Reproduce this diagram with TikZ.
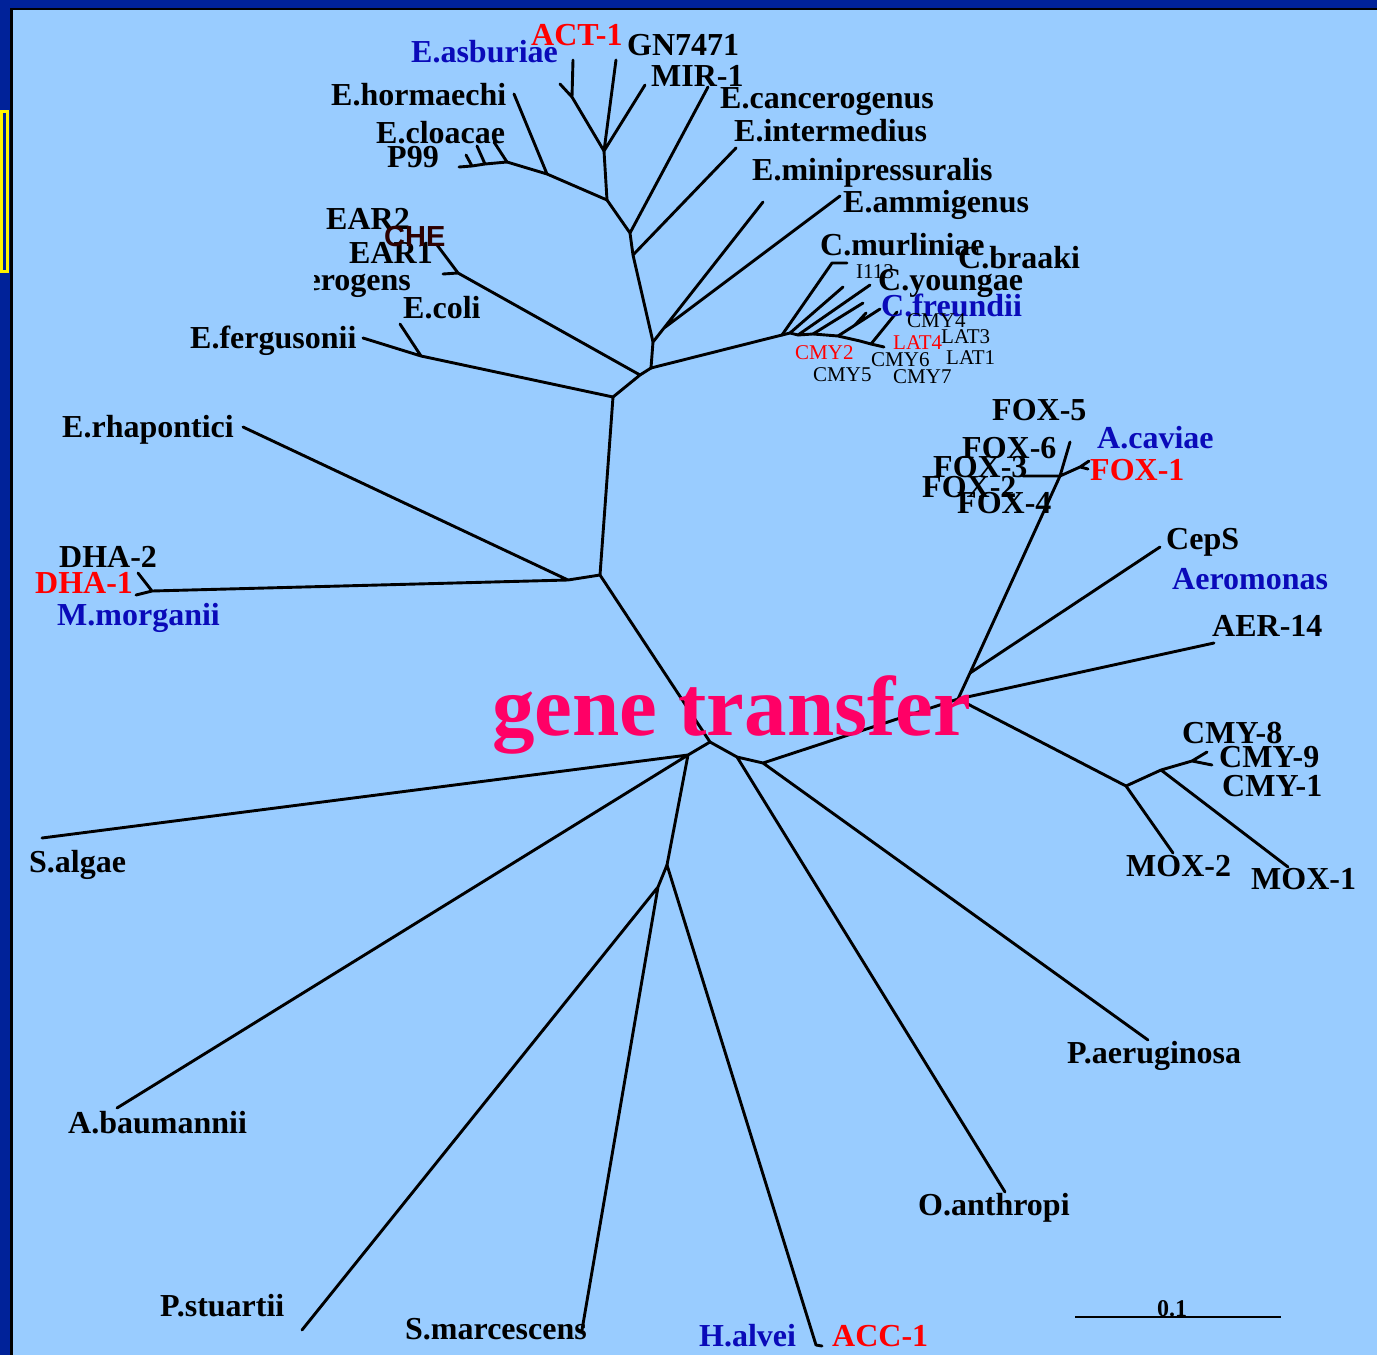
\documentclass[tikz,border=0pt]{standalone}
\usepackage{fontspec}
\setmainfont{Liberation Serif}
\newfontfamily\chefont{Liberation Sans}
\definecolor{frameblue}{RGB}{0,34,153}
\definecolor{paneblue}{RGB}{153,204,255}
\definecolor{taxblue}{RGB}{10,10,185}
\definecolor{taxred}{RGB}{255,0,0}
\definecolor{genepink}{RGB}{255,0,102}
\definecolor{chebrown}{RGB}{45,0,0}
\begin{document}
\begin{tikzpicture}[x=1pt,y=-1pt,
  branch/.style={line width=2.9pt,line cap=round,line join=round},
  lab/.style={anchor=base west,inner sep=0pt,font=\bfseries\fontsize{32}{36}\selectfont},
  sml/.style={anchor=base west,inner sep=0pt,font=\fontsize{21}{24}\selectfont},
  bluelab/.style={lab,text=taxblue},
  redlab/.style={lab,text=taxred}]
\useasboundingbox (0,0) rectangle (1377,1355);
% frame and panel
\fill[frameblue] (0,0) rectangle (1377,1355);
\fill[black] (10,7.5) rectangle (1377,1355);
\fill[paneblue] (13,10) rectangle (1377,1355);
\draw[yellow,line width=3pt] (1,111) rectangle (7.5,271);

% ---------- tree vertices ----------
% Enterobacter group
\coordinate (a1) at (572,97);   \coordinate (tACT) at (573,60);  \coordinate (tASB) at (560,84);
\coordinate (b1) at (604,151);  \coordinate (tGN) at (616,60);   \coordinate (tMIR) at (645,85);
\coordinate (c1) at (607,200);
\coordinate (d1) at (547,174);  \coordinate (tHOR) at (514,94);
\coordinate (e1) at (507,162);  \coordinate (e2) at (485,164);   \coordinate (e3) at (472,166);
\coordinate (tCL1) at (494,142); \coordinate (tCL2) at (477,146); \coordinate (tCL3) at (466,155);
\coordinate (tP99) at (459,167);
\coordinate (f1) at (630,233);  \coordinate (tCAN) at (708,87);
\coordinate (g1) at (633,255);  \coordinate (tINT) at (736,148);
\coordinate (h1) at (653,342);  \coordinate (h2) at (664,328);
\coordinate (tMINI) at (763,202); \coordinate (tAMM) at (840,196);
\coordinate (i1) at (651,368);
\coordinate (k1) at (640,375);  \coordinate (k2) at (458,273);
\coordinate (tEAR) at (437,245); \coordinate (tAERO) at (443,274);
\coordinate (j1) at (613,397);
\coordinate (l1) at (421,356);  \coordinate (tFER) at (363,338); \coordinate (tCOLI) at (400,324);
% Citrobacter group
\coordinate (cf0) at (782,335); \coordinate (cf1) at (790,333); \coordinate (cf2) at (798,335);
\coordinate (cf3) at (813,334); \coordinate (cf4) at (838,336); \coordinate (cf5) at (860,341);
\coordinate (cf6) at (871,344); \coordinate (cfE) at (884,347);
\coordinate (tMUR) at (832,263); \coordinate (tMURb) at (847,263);
\coordinate (tCF1) at (843,287); \coordinate (tCF2) at (870,285); \coordinate (tCF3) at (863,303);
\coordinate (tCF4) at (880,309); \coordinate (cf4b) at (855,325); \coordinate (tCF4b) at (866,313);
\coordinate (tCF6) at (897,312);
% base of the tree
\coordinate (m1) at (600,575);  \coordinate (n1) at (568,580);  \coordinate (tRHA) at (243,427);
\coordinate (dh) at (152,591);  \coordinate (tDHA2) at (138,573); \coordinate (tDHA1) at (136,595);
\coordinate (o1) at (710,742);  \coordinate (p1) at (688,755);
\coordinate (tALG) at (42,838); \coordinate (tBAU) at (117,1108);
\coordinate (r1) at (667,865);  \coordinate (s1) at (658,887);
\coordinate (tSTU) at (302,1330); \coordinate (tMAR) at (582,1330);
\coordinate (tALV) at (816,1345); \coordinate (tACC) at (822,1346);
\coordinate (t1) at (737,757);  \coordinate (tANT) at (1005,1192);
\coordinate (u1) at (763,763);  \coordinate (tAERU) at (1148,1040);
% Aeromonas / FOX group
\coordinate (w1) at (958,699);  \coordinate (y1) at (970,673);
\coordinate (tCEPS) at (1160,547); \coordinate (tAER14) at (1214,643);
\coordinate (fx) at (1060,476); \coordinate (tFOX5) at (1070,442); \coordinate (tFOX32) at (1023,476);
\coordinate (fx1) at (1080,467); \coordinate (tFOX1a) at (1089,461); \coordinate (tFOX1b) at (1088,469);
% MOX / CMY group
\coordinate (x1) at (1126,786); \coordinate (tMOX2) at (1173,853);
\coordinate (x2) at (1161,770); \coordinate (tMOX1) at (1288,867);
\coordinate (x3) at (1192,761); \coordinate (tCMY8) at (1207,752); \coordinate (tCMY9) at (1212,765);

% ---------- branches ----------
\begin{scope}[branch]
\draw (a1)--(tACT) (a1)--(tASB) (a1)--(b1);
\draw (b1)--(tGN) (b1)--(tMIR) (b1)--(c1);
\draw (c1)--(d1) (d1)--(tHOR) (d1)--(e1);
\draw (e1)--(tCL1) (e1)--(e2)--(e3)--(tP99) (e2)--(tCL2) (e3)--(tCL3);
\draw (c1)--(f1) (f1)--(tCAN) (f1)--(g1) (g1)--(tINT) (g1)--(h1);
\draw (h1)--(h2) (h2)--(tMINI) (h2)--(tAMM) (h1)--(i1);
\draw (i1)--(cf0);
\draw (cf0)--(cf1)--(cf2)--(cf3)--(cf4)--(cf5)--(cf6)--(cfE);
\draw (cf0)--(tMUR)--(tMURb) (cf1)--(tCF1) (cf2)--(tCF2) (cf3)--(tCF3);
\draw (cf4)--(tCF4) (cf4b)--(tCF4b) (cf6)--(tCF6);
\draw (i1)--(k1) (k1)--(k2) (k2)--(tEAR) (k2)--(tAERO) (k1)--(j1);
\draw (j1)--(l1) (l1)--(tFER) (l1)--(tCOLI);
\draw (j1)--(m1) (m1)--(n1) (n1)--(tRHA) (n1)--(dh) (dh)--(tDHA2) (dh)--(tDHA1);
\draw (m1)--(o1) (o1)--(p1) (p1)--(tALG) (p1)--(tBAU) (p1)--(r1);
\draw (r1)--(s1) (s1)--(tSTU) (s1)--(tMAR) (r1)--(tALV)--(tACC);
\draw (o1)--(t1) (t1)--(tANT) (t1)--(u1) (u1)--(tAERU) (u1)--(w1);
\draw (w1)--(y1)--(fx) (fx)--(tFOX5) (fx)--(tFOX32) (fx)--(fx1) (fx1)--(tFOX1a) (fx1)--(tFOX1b);
\draw (y1)--(tCEPS) (w1)--(tAER14);
\draw (w1)--(x1) (x1)--(tMOX2) (x1)--(x2) (x2)--(tMOX1) (x2)--(x3) (x3)--(tCMY8) (x3)--(tCMY9);
\end{scope}

% ---------- labels ----------
\node[redlab]  (lACT)  at (531,45)  {ACT-1};
\node[lab]     (lGN)   at (627,55)  {GN7471};
\node[bluelab] (lASB)  at (411,62)  {E.asburiae};
\node[lab]     (lMIR)  at (651,86)  {MIR-1};
\node[lab]     (lHOR)  at (331,105) {E.hormaechi};
\node[lab]     (lCAN)  at (720,108) {E.cancerogenus};
\node[lab]     (lCL)   at (376,143) {E.cloacae};
\node[lab]     (lP99)  at (387,167) {P99};
\node[lab]     (lINT)  at (734,141) {E.intermedius};
\node[lab]     (lMINI) at (752,180) {E.minipressuralis};
\node[lab]     (lAMM)  at (843,212) {E.ammigenus};
\node[lab]     (lEAR2) at (326,229) {EAR2};
\node[lab]     (lEAR1) at (349,263) {EAR1};
\node[anchor=base west,inner sep=0pt,text=chebrown,font=\chefont\bfseries\fontsize{29}{34}\selectfont] (lCHE) at (384,246) {CHE};
\begin{scope}
\clip (314,255) rectangle (430,300);
\node[lab] (lAERO) at (261,290) {E.aerogens};
\end{scope}
\node[lab]     (lCOLI) at (403,318) {E.coli};
\node[lab]     (lFER)  at (190,348) {E.fergusonii};
\node[lab]     (lMUR)  at (820,255) {C.murliniae};
\node[lab]     (lBRA)  at (958,268) {C.braaki};
\node[sml]     (lI113) at (856,278) {I113};
\node[lab]     (lYOU)  at (878,290) {C.youngae};
\node[bluelab] (lFRE)  at (881,316) {C.freundii};
\node[sml]     (lCMY4) at (907,327) {CMY4};
\node[sml]     (lLAT3) at (941,343) {LAT3};
\node[sml,text=taxred] (lLAT4) at (893,349) {LAT4};
\node[sml,text=taxred] (lCMY2) at (795,359) {CMY2};
\node[sml]     (lCMY6) at (871,366) {CMY6};
\node[sml]     (lLAT1) at (946,364) {LAT1};
\node[sml]     (lCMY5) at (813,381) {CMY5};
\node[sml]     (lCMY7) at (893,383) {CMY7};
\node[lab]     (lFOX5) at (992,420) {FOX-5};
\node[bluelab] (lCAV)  at (1097,448) {A.caviae};
\node[lab]     (lFOX6) at (962,458) {FOX-6};
\node[redlab]  (lFOX1) at (1090,480) {FOX-1};
\node[lab]     (lFOX3) at (933,477) {FOX-3};
\node[lab]     (lFOX2) at (922,497) {FOX-2};
\node[lab]     (lFOX4) at (957,513) {FOX-4};
\node[lab]     (lCEPS) at (1166,549) {CepS};
\node[bluelab] (lAMON) at (1172,589) {Aeromonas};
\node[lab]     (lAER14) at (1212,636) {AER-14};
\node[lab]     (lRHA)  at (62,437)  {E.rhapontici};
\node[lab]     (lDHA2) at (59,567)  {DHA-2};
\node[redlab]  (lDHA1) at (35,593)  {DHA-1};
\node[bluelab] (lMOR)  at (57,625)  {M.morganii};
\node[lab]     (lCMY8) at (1182,743) {CMY-8};
\node[lab]     (lCMY9) at (1219,767) {CMY-9};
\node[lab]     (lCMY1) at (1222,796) {CMY-1};
\node[lab]     (lMOX2) at (1126,876) {MOX-2};
\node[lab]     (lMOX1) at (1251,889) {MOX-1};
\node[lab]     (lALG)  at (29,872)  {S.algae};
\node[lab]     (lBAU)  at (68,1133) {A.baumannii};
\node[lab]     (lAERU) at (1067,1063) {P.aeruginosa};
\node[lab]     (lANT)  at (918,1215) {O.anthropi};
\node[lab]     (lSTU)  at (160,1316) {P.stuartii};
\node[lab]     (lMAR)  at (405,1339) {S.marcescens};
\node[bluelab] (lALV)  at (699,1346) {H.alvei};
\node[redlab]  (lACC)  at (832,1346) {ACC-1};

% scale bar
\coordinate (sbL) at (1075,1317);
\coordinate (sbR) at (1281,1317);
\draw[line width=2.9pt] (sbL)--(sbR);
\node[anchor=base west,inner sep=0pt,font=\bfseries\fontsize{24}{28}\selectfont] (lscale) at (1157,1316) {0.1};

% overlay caption
\node[anchor=base west,inner sep=0pt,text=genepink,font=\bfseries\fontsize{85}{90}\selectfont] (gt) at (492,735) {gene transfer};
\end{tikzpicture}
\end{document}
